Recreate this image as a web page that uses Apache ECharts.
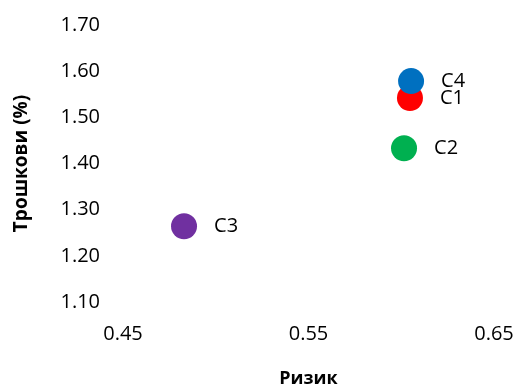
<!DOCTYPE html>
<html>
<head>
<meta charset="utf-8">
<script src="https://cdn.jsdelivr.net/npm/echarts@6/dist/echarts.min.js"></script>
<style>
  html, body { margin: 0; padding: 0; background: #fff; }
  #chart { width: 519px; height: 386px; }
</style>
</head>
<body>
<div id="chart"></div>
<script>
// податоци
var names = ['C1', 'C2', 'C3', 'C4']
var risk = [0.6047, 0.6015, 0.4829, 0.6053]
var costs = [1.542, 1.433, 1.264, 1.5785]
var colors = ['#FF0000', '#00B050', '#7030A0', '#0070C0']

var font = '"Open Sans", sans-serif'

var series = names.map(function (n, i) {
  return {
    name: n,
    type: 'scatter',
    symbolSize: 26,
    itemStyle: { color: colors[i], opacity: 1 },
    label: {
      show: true,
      position: 'right',
      distance: 17,
      formatter: '{a}',
      color: '#000',
      fontSize: 20,
      fontFamily: font
    },
    data: [[risk[i], costs[i]]]
  }
})

var chart = echarts.init(document.getElementById('chart'))
chart.setOption({
  animation: false,
  grid: { left: 123, right: 25, top: 25, bottom: 84, outerBoundsMode: 'none' },
  xAxis: {
    type: 'value',
    min: 0.45,
    max: 0.65,
    interval: 0.1,
    name: 'Ризик',
    nameLocation: 'middle',
    nameGap: 68,
    nameTextStyle: { fontSize: 18, fontWeight: 'bold', color: '#000', fontFamily: font },
    axisLine: { show: false },
    axisTick: { show: false },
    splitLine: { show: false },
    axisLabel: {
      margin: 22,
      fontSize: 20,
      color: '#000',
      fontFamily: font,
      formatter: function (v) { return v.toFixed(2) }
    }
  },
  yAxis: {
    type: 'value',
    min: 1.1,
    max: 1.7,
    interval: 0.1,
    name: 'Трошкови (%)',
    nameLocation: 'middle',
    nameGap: 92,
    nameTextStyle: { fontSize: 19, fontWeight: 'bold', color: '#000', fontFamily: font },
    axisLine: { show: false },
    axisTick: { show: false },
    splitLine: { show: false },
    axisLabel: {
      margin: 23,
      fontSize: 20,
      color: '#000',
      fontFamily: font,
      padding: [4, 0, 0, 0],
      formatter: function (v) { return v.toFixed(2) }
    }
  },
  series: series
})
</script>
</body>
</html>
